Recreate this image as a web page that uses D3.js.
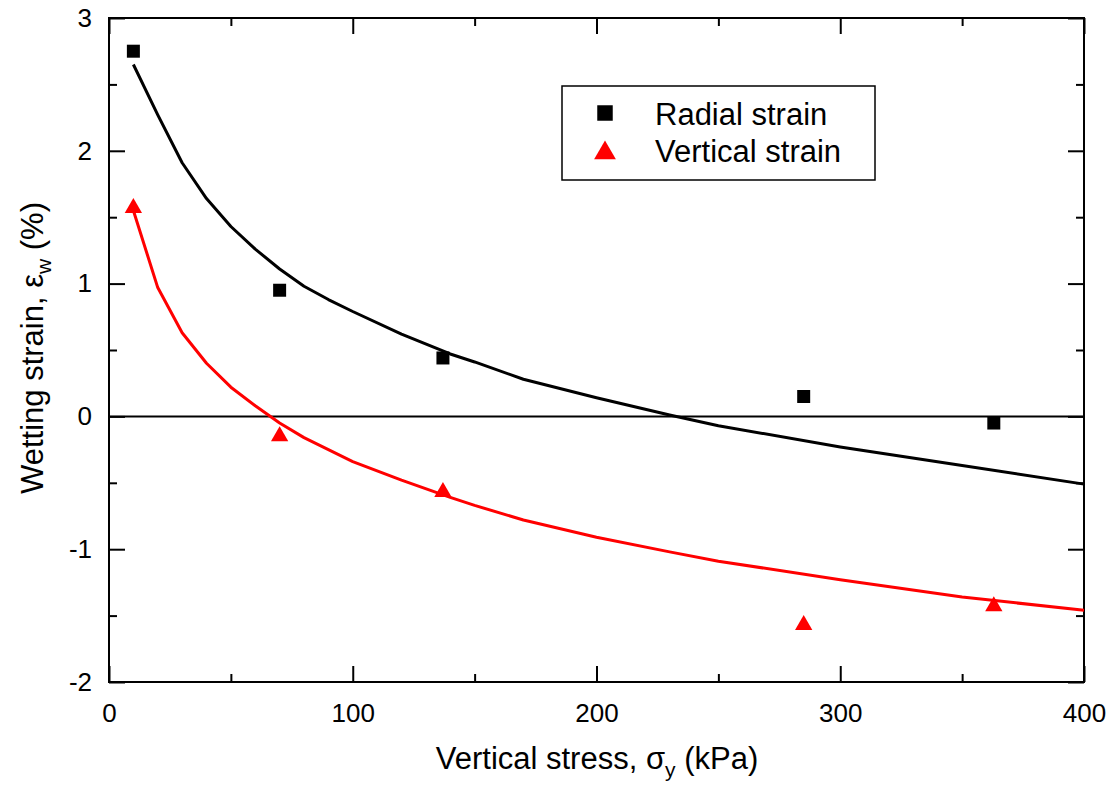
<!DOCTYPE html>
<html lang="en">
<meta charset="utf-8">
<head>
    <script src='https://d3js.org/d3.v7.min.js'></script>
    <style>
        body { margin: 0; background: #fff; }
        text { font-family: "Liberation Sans", Arial, sans-serif; }
    </style>
</head>
<body>
<div id="chart"></div>
<script>
// measured points
const radialX = [10, 70, 137, 285, 363];
const radialY = [2.75, 0.95, 0.44, 0.15, -0.05];
const verticalX = [10, 70, 137, 285, 363];
const verticalY = [1.57, -0.15, -0.57, -1.57, -1.43];

// fitted curves
const fitX = [10, 20, 30, 40, 50, 60, 70, 80, 90, 100, 120, 140, 150, 170, 200, 230, 250, 300, 350, 400];
const radialFit = [2.65, 2.27, 1.91, 1.64, 1.43, 1.26, 1.11, 0.98, 0.88, 0.79, 0.62, 0.47, 0.41, 0.28, 0.14, 0.01, -0.07, -0.23, -0.37, -0.51];
const verticalFit = [1.55, 0.97, 0.63, 0.40, 0.22, 0.08, -0.05, -0.16, -0.25, -0.34, -0.48, -0.61, -0.67, -0.78, -0.91, -1.02, -1.09, -1.23, -1.36, -1.46];

const xTicks = [0, 100, 200, 300, 400];
const yTicks = [-2, -1, 0, 1, 2, 3];
const xMinor = [50, 150, 250, 350];
const yMinor = [-1.5, -0.5, 0.5, 1.5, 2.5];

const width = 1115, height = 792;
const mLeft = 109, mRight = 1084, mTop = 18, mBottom = 682;

const svg = d3.select("#chart").append("svg")
    .attr("width", width)
    .attr("height", height);

const x = d3.scaleLinear().domain([0, 400]).range([mLeft, mRight]);
const y = d3.scaleLinear().domain([-2, 3]).range([mBottom, mTop]);

// ticks on all four sides, pointing in
function ticks(axis, pos, vals, size, fmt, pad) {
    const g = svg.append("g").attr("transform", pos)
        .call(axis.tickValues(vals).tickSizeInner(-size).tickSizeOuter(0).tickPadding(pad || 12).tickFormat(fmt));
    g.select(".domain").remove();
    g.selectAll("line").attr("stroke", "#000").attr("stroke-width", 2);
    g.selectAll("text").attr("font-size", 26).attr("fill", "#000")
        .style("font-family", '"Liberation Sans", Arial, sans-serif');
    return g;
}
const fmt = d => String(d);   // plain hyphen, like the original
const none = () => "";
ticks(d3.axisBottom(x), `translate(0,${mBottom})`, xTicks, 16, fmt, 22);
ticks(d3.axisBottom(x), `translate(0,${mBottom})`, xMinor, 8, none);
ticks(d3.axisTop(x), `translate(0,${mTop})`, xTicks, 16, none);
ticks(d3.axisTop(x), `translate(0,${mTop})`, xMinor, 8, none);
ticks(d3.axisLeft(y), `translate(${mLeft},0)`, yTicks, 16, fmt, 17);
ticks(d3.axisLeft(y), `translate(${mLeft},0)`, yMinor, 8, none);
ticks(d3.axisRight(y), `translate(${mRight},0)`, yTicks, 16, none);
ticks(d3.axisRight(y), `translate(${mRight},0)`, yMinor, 8, none);

// frame
svg.append("rect")
    .attr("x", mLeft).attr("y", mTop)
    .attr("width", mRight - mLeft).attr("height", mBottom - mTop)
    .attr("fill", "none").attr("stroke", "#000").attr("stroke-width", 2);

// zero line
svg.append("line")
    .attr("x1", mLeft).attr("x2", mRight)
    .attr("y1", y(0)).attr("y2", y(0))
    .attr("stroke", "#000").attr("stroke-width", 2);

const line = d3.line().x(d => x(d[0])).y(d => y(d[1]));

svg.append("path")
    .datum(d3.zip(fitX, radialFit))
    .attr("fill", "none").attr("stroke", "#000").attr("stroke-width", 3)
    .attr("stroke-linejoin", "round")
    .attr("d", line);
svg.append("path")
    .datum(d3.zip(fitX, verticalFit))
    .attr("fill", "none").attr("stroke", "#ff0000").attr("stroke-width", 3)
    .attr("stroke-linejoin", "round")
    .attr("d", line);

const square = d3.symbol().type(d3.symbolSquare).size(169);
const tri = d3.symbol().type(d3.symbolTriangle).size(130);

svg.append("g").selectAll("path")
    .data(d3.zip(radialX, radialY))
    .join("path")
    .attr("transform", d => `translate(${x(d[0])},${y(d[1])})`)
    .attr("d", square)
    .attr("fill", "#000");

svg.append("g").selectAll("path")
    .data(d3.zip(verticalX, verticalY))
    .join("path")
    .attr("transform", d => `translate(${x(d[0])},${y(d[1])})`)
    .attr("d", tri)
    .attr("fill", "#ff0000");

// legend
const lg = svg.append("g");
lg.append("rect")
    .attr("x", 562).attr("y", 86).attr("width", 313).attr("height", 94)
    .attr("fill", "#fff").attr("stroke", "#000").attr("stroke-width", 1.5);
lg.append("path").attr("transform", "translate(605,113)")
    .attr("d", d3.symbol().type(d3.symbolSquare).size(240)).attr("fill", "#000");
lg.append("path").attr("transform", "translate(605,153)")
    .attr("d", d3.symbol().type(d3.symbolTriangle).size(205)).attr("fill", "#ff0000");
lg.append("text").attr("x", 655).attr("y", 125).attr("font-size", 31).text("Radial strain");
lg.append("text").attr("x", 655).attr("y", 162).attr("font-size", 31).text("Vertical strain");

// axis titles
const xt = svg.append("text")
    .attr("x", 597).attr("y", 769)
    .attr("text-anchor", "middle").attr("font-size", 31);
xt.append("tspan").text("Vertical stress, ");
xt.append("tspan").text("σ");
xt.append("tspan").attr("font-size", 21).attr("dy", 8).text("y");
xt.append("tspan").attr("dy", -8).text(" (kPa)");

const yt = svg.append("text")
    .attr("transform", "translate(43,348) rotate(-90)")
    .attr("text-anchor", "middle").attr("font-size", 31);
yt.append("tspan").text("Wetting strain, ");
yt.append("tspan").text("ε");
yt.append("tspan").attr("font-size", 21).attr("dy", 8).text("w");
yt.append("tspan").attr("dy", -8).text(" (%)");
</script>
</body>
</html>
